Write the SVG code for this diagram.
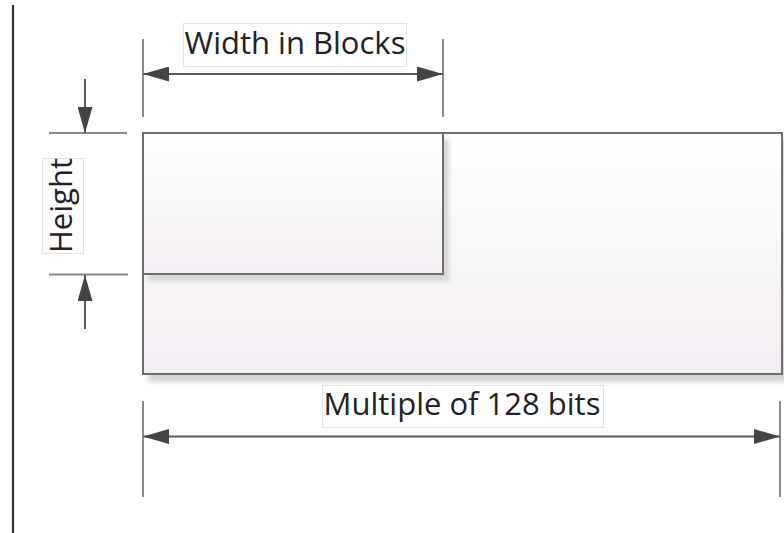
<svg xmlns="http://www.w3.org/2000/svg" width="784" height="533" viewBox="0 0 784 533">
<style>
.lbl{font-family:"Open Sans","Liberation Sans",sans-serif;font-size:31px;fill:#222;text-anchor:middle}
.lblbox{fill:#fff;stroke:#e2e2e2;stroke-width:1}
.ext{stroke:#8a8a8a;stroke-width:2;fill:none}
.dim{stroke:#5a5a5a;stroke-width:2;fill:none}
.box{stroke:#6e6e6e;stroke-width:2;fill:url(#g)}
.shadow{fill:#d6d6d6;filter:url(#blur)}
</style>
<defs>
<linearGradient id="g" x1="0" y1="0" x2="0" y2="1">
<stop offset="0" stop-color="#ffffff"/>
<stop offset="1" stop-color="#f2edf2"/>
</linearGradient>
<filter id="blur" x="-10%" y="-10%" width="120%" height="120%"><feGaussianBlur stdDeviation="2"/></filter>
<marker id="ah" viewBox="0 0 26 15" refX="26" refY="7.5" markerWidth="26" markerHeight="15" markerUnits="userSpaceOnUse" orient="auto-start-reverse">
<path d="M0,0 L26,7.5 L0,15 Z" fill="#444"/>
</marker>
</defs>
<line x1="13" y1="5" x2="13" y2="533" stroke="#333" stroke-width="2.2"/>
<g id="outer">
<rect class="shadow" x="148" y="139" width="640" height="243"/>
<rect class="box" x="143" y="133" width="639" height="241"/>
</g>
<g id="inner">
<rect class="shadow" x="148" y="139" width="301" height="142"/>
<rect class="box" x="143" y="133" width="300" height="141" stroke="#5a5a5a"/>
</g>
<g id="connectors">
<line class="ext" x1="143" y1="39" x2="143" y2="117"/>
<line class="ext" x1="443" y1="39" x2="443" y2="117"/>
<line class="dim" x1="143" y1="74" x2="443" y2="74" marker-start="url(#ah)" marker-end="url(#ah)"/>
<line class="ext" x1="49" y1="133" x2="127" y2="133"/>
<line class="ext" x1="49" y1="274.5" x2="128" y2="274.5" stroke="#555"/>
<line class="dim" x1="85" y1="79" x2="85" y2="133" stroke="#777" marker-end="url(#ah)"/>
<line class="dim" x1="85" y1="329" x2="85" y2="275" stroke="#777" marker-end="url(#ah)"/>
<line class="ext" x1="143" y1="401" x2="143" y2="497"/>
<line class="ext" x1="780" y1="401" x2="780" y2="497"/>
<line class="dim" x1="143" y1="436.5" x2="780" y2="436.5" marker-start="url(#ah)" marker-end="url(#ah)"/>
</g>
<g id="label-width">
<rect class="lblbox" x="183.5" y="23.5" width="223" height="43"/>
<text class="lbl" x="295" y="54">Width in Blocks</text>
</g>
<g id="label-height">
<rect class="lblbox" x="42.5" y="158.5" width="41" height="95"/>
<text class="lbl" transform="translate(72,205.5) rotate(-90)">Height</text>
</g>
<g id="label-multiple">
<rect class="lblbox" x="322.5" y="385.5" width="281" height="42"/>
<text class="lbl" x="462" y="415">Multiple of 128 bits</text>
</g>
</svg>
